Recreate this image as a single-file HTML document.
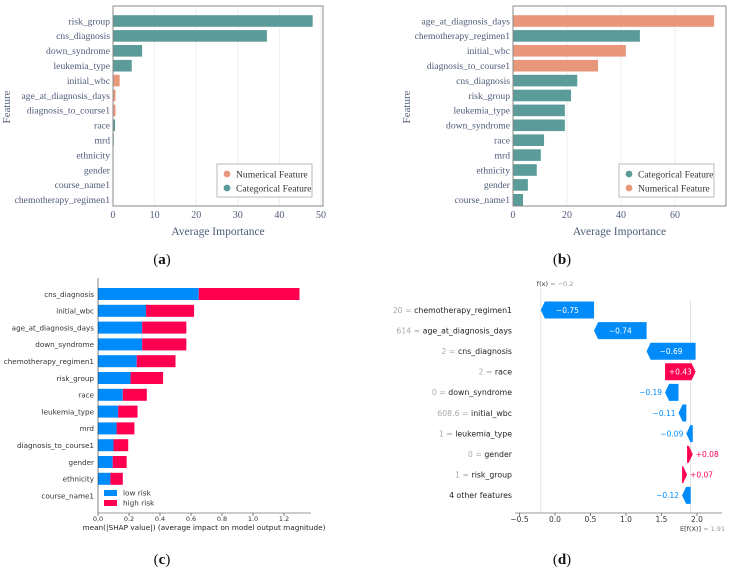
<!DOCTYPE html>
<html><head><meta charset="utf-8"><style>
html,body{margin:0;padding:0;background:#fff}
svg{display:block}
.sr{font-family:"Liberation Serif",serif;fill:#4f5b7a}
.dj{font-family:"DejaVu Sans",sans-serif;fill:#333}
</style></head><body>
<svg id="fig" width="731" height="571" viewBox="0 0 731 571" xmlns="http://www.w3.org/2000/svg"></svg>
<script>
// Panel a data
const aFeatures=["risk_group","cns_diagnosis","down_syndrome","leukemia_type","initial_wbc","age_at_diagnosis_days","diagnosis_to_course1","race","mrd","ethnicity","gender","course_name1","chemotherapy_regimen1"];
const aValues=[48,37,7,4.5,1.6,0.6,0.6,0.5,0.2,0,0,0,0];
const aTypes=["c","c","c","c","n","n","n","c","c","c","c","c","c"];
const aTicks=[0,10,20,30,40,50];
// Panel b data
const bFeatures=["age_at_diagnosis_days","chemotherapy_regimen1","initial_wbc","diagnosis_to_course1","cns_diagnosis","risk_group","leukemia_type","down_syndrome","race","mrd","ethnicity","gender","course_name1"];
const bValues=[74.5,47,41.8,31.5,23.8,21.5,19.2,19.2,11.5,10.3,8.8,5.5,3.7];
const bTypes=["n","c","n","n","c","c","c","c","c","c","c","c","c"];
const bTicks=[0,20,40,60];
// Panel c data
const cFeatures=["cns_diagnosis","initial_wbc","age_at_diagnosis_days","down_syndrome","chemotherapy_regimen1","risk_group","race","leukemia_type","mrd","diagnosis_to_course1","gender","ethnicity","course_name1"];
const cLow=[0.65,0.31,0.285,0.285,0.25,0.21,0.16,0.13,0.12,0.10,0.095,0.08,0];
const cHigh=[0.65,0.31,0.285,0.285,0.25,0.21,0.155,0.125,0.115,0.095,0.09,0.08,0];
const cTicks=[0,0.2,0.4,0.6,0.8,1.0,1.2];
// Panel d data
const dFeatures=["chemotherapy_regimen1","age_at_diagnosis_days","cns_diagnosis","race","down_syndrome","initial_wbc","leukemia_type","gender","risk_group","4 other features"];
const dVals=["20","614","2","2","0","608.6","1","0","1",""];
const dShap=[-0.75,-0.74,-0.69,0.43,-0.19,-0.11,-0.09,0.08,0.07,-0.12];
const dBase=1.91;
const dTicks=[-0.5,0,0.5,1,1.5,2];

const NS="http://www.w3.org/2000/svg";
const svg=document.getElementById('fig');
function mk(tag,attrs,parent,text){const e=document.createElementNS(NS,tag);for(const k in attrs)e.setAttribute(k,attrs[k]);if(text!==undefined)e.textContent=text;(parent||svg).appendChild(e);return e;}
const TEAL="#5b9b99",ORANGE="#e9977b",BLUE="#008bfb",RED="#ff0051";

function importancePanel(feats,vals,types,ticks,x0,x1,xmax,legendOrder,lx,tag){
  const g=mk('g',{});
  
  
  const sx=v=>x0+(v/xmax)*(x1-x0);
  const right=tag==='a'?323:726;
  for(const t of ticks){const l=mk('line',{x1:sx(t),x2:sx(t),y1:6,y2:206,stroke:'#eeeeee','stroke-width':1},g);
    
    const tx=mk('text',{x:sx(t),y:218,'text-anchor':'middle','font-size':10,class:'sr'},g,String(t));
    }
  const y0=21,step=14.9;
  feats.forEach((f,i)=>{const y=y0+i*step;
    const r=mk('rect',{x:x0,y:y-5.8,width:Math.max(0,sx(vals[i])-x0),height:11.6,fill:types[i]==='n'?ORANGE:TEAL},g);
    
    const t=mk('text',{x:x0-3,y:y+3.3,'text-anchor':'end','font-size':9.6,class:'sr'},g,f);
    });
  const fr2=mk('rect',{x:x0,y:6,width:right-x0,height:200,fill:'none',stroke:'#8a8a8a','stroke-width':1},g);
  
  const yt=mk('text',{x:0,y:0,transform:`translate(${tag==='a'?10:410},107) rotate(-90)`,'text-anchor':'middle','font-size':11,class:'sr'},g,'Feature');
  
  const xt=mk('text',{x:(x0+right)/2,y:235,'text-anchor':'middle','font-size':11.5,class:'sr'},g,'Average Importance');
  
  const lg=mk('g',{},g);
  mk('rect',{x:lx,y:164,width:95,height:33,fill:'#fff',stroke:'#aaa','stroke-width':0.8},lg);
  legendOrder.forEach((o,i)=>{const y=174+i*14;
    mk('circle',{cx:lx+10,cy:y,r:3.4,fill:o==='n'?ORANGE:TEAL},lg);
    const t=mk('text',{x:lx+19,y:y+3.5,'font-size':9.6,class:'sr',style:'fill:#333'},lg,o==='n'?'Numerical Feature':'Categorical Feature');
    });
}
importancePanel(aFeatures,aValues,aTypes,aTicks,113,321,50,['n','c'],217,'a');
importancePanel(bFeatures,bValues,bTypes,bTicks,513,675,60,['c','n'],619,'b');

// Panel c
(function(){
  const g=mk('g',{});
  const x0=98,k=155,sx=v=>x0+v*k;
  const y0=294,step=16.8;
  cFeatures.forEach((f,i)=>{const y=y0+i*step;
    const r1=mk('rect',{x:x0,y:y-6,width:cLow[i]*k,height:12,fill:BLUE},g);
    
    const r2=mk('rect',{x:sx(cLow[i]),y:y-6,width:cHigh[i]*k,height:12,fill:RED},g);
    
    const t=mk('text',{x:94,y:y+2.8,'text-anchor':'end','font-size':7.2,class:'dj'},g,f);
    });
  const sp=mk('line',{x1:x0,x2:x0,y1:278,y2:513,stroke:'#333','stroke-width':0.6},g);
  const bt=mk('line',{x1:x0,x2:311,y1:513,y2:513,stroke:'#333','stroke-width':0.6},g);
  for(const t of cTicks){mk('line',{x1:sx(t),x2:sx(t),y1:513,y2:516,stroke:'#333','stroke-width':0.6},g);
    const tx=mk('text',{x:sx(t),y:521,'text-anchor':'middle','font-size':6.5,class:'dj'},g,t.toFixed(1));
    }
  const xt=mk('text',{x:204,y:530,'text-anchor':'middle','font-size':7.3,class:'dj',style:'fill:#222'},g,'mean(|SHAP value|) (average impact on model output magnitude)');
  
  const lg=mk('g',{},g);
  [['low risk',BLUE,493],['high risk',RED,503]].forEach(([n,c,y])=>{mk('rect',{x:104,y:y-3,width:13,height:6,fill:c},lg);
    const t=mk('text',{x:123,y:y+2.5,'font-size':7.3,class:'dj'},lg,n);});
})();

// Panel d
(function(){
  const g=mk('g',{});
  const sx=v=>555+v*71;
  const y0=310,step=20.6,h=17;
  const n=dShap.length;const starts=new Array(n);let cur=dBase;
  for(let i=n-1;i>=0;i--){starts[i]=cur;cur+=dShap[i];}
  const fx=cur;
  mk('line',{x1:sx(fx),x2:sx(fx),y1:289,y2:513,stroke:'#ddd','stroke-width':0.8},g);
  mk('line',{x1:sx(dBase),x2:sx(dBase),y1:300,y2:513,stroke:'#ddd','stroke-width':0.8},g);
  dFeatures.forEach((f,i)=>{const y=y0+i*step;const s=starts[i],e=s+dShap[i];
    const lo=Math.min(sx(s),sx(e)),hi=Math.max(sx(s),sx(e));const w=hi-lo;const ah=Math.min(4,w);
    let pts;
    if(dShap[i]<0) pts=`${lo},${y} ${lo+ah},${y-h/2} ${hi},${y-h/2} ${hi},${y+h/2} ${lo+ah},${y+h/2}`;
    else pts=`${lo},${y-h/2} ${hi-ah},${y-h/2} ${hi},${y} ${hi-ah},${y+h/2} ${lo},${y+h/2}`;
    const p=mk('polygon',{points:pts,fill:dShap[i]<0?BLUE:RED},g);
    
    const lbl=(dShap[i]<0?'\u2212':'+')+Math.abs(dShap[i]).toFixed(2);
    let tx,anc,col;
    if(w>30){tx=(lo+hi)/2;anc='middle';col='#fff';}
    else if(dShap[i]<0){tx=lo-3;anc='end';col=BLUE;}
    else{tx=hi+3;anc='start';col=RED;}
    const vt=mk('text',{x:tx,y:y+2.8,'text-anchor':anc,'font-size':7.5,class:'dj',style:'fill:'+col},g,lbl);
    
    const t=mk('text',{x:512,y:y+2.8,'text-anchor':'end','font-size':7.8,class:'dj',style:'fill:#222'},g);
    
    if(dVals[i]!==''){mk('tspan',{style:'fill:#aaa'},t,dVals[i]+' = ');}
    mk('tspan',{},t,f);
  });
  const ax=mk('line',{x1:515,x2:722,y1:513,y2:513,stroke:'#333','stroke-width':0.6},g);
  for(const t of dTicks){mk('line',{x1:sx(t),x2:sx(t),y1:513,y2:516,stroke:'#333','stroke-width':0.6},g);
    const tx=mk('text',{x:sx(t),y:522,'text-anchor':'middle','font-size':7.5,class:'dj'},g,(t<0?'\u2212':'')+Math.abs(t).toFixed(1));
    }
  const ft=mk('text',{x:sx(fx)-4,y:286,'font-size':6.5,class:'dj'},g);
  mk('tspan',{},ft,'f(x)');mk('tspan',{style:'fill:#999'},ft,' = \u22120.2');
  const et=mk('text',{x:680,y:531,'font-size':6.5,class:'dj'},g);
  mk('tspan',{},et,'E[f(X)]');mk('tspan',{style:'fill:#999'},et,' = '+dBase.toFixed(2));
})();

// captions
[['(a)',162,264],['(b)',562,264],['(c)',162,564],['(d)',562,564]].forEach(([s,x,y])=>{
  const t=mk('text',{x:x,y:y,'text-anchor':'middle','font-size':15,'font-family':'Liberation Serif, serif',fill:'#111'});
  
  mk('tspan',{},t,'(');mk('tspan',{'font-weight':'bold'},t,s[1]);mk('tspan',{},t,')');
});
</script>
</body></html>
